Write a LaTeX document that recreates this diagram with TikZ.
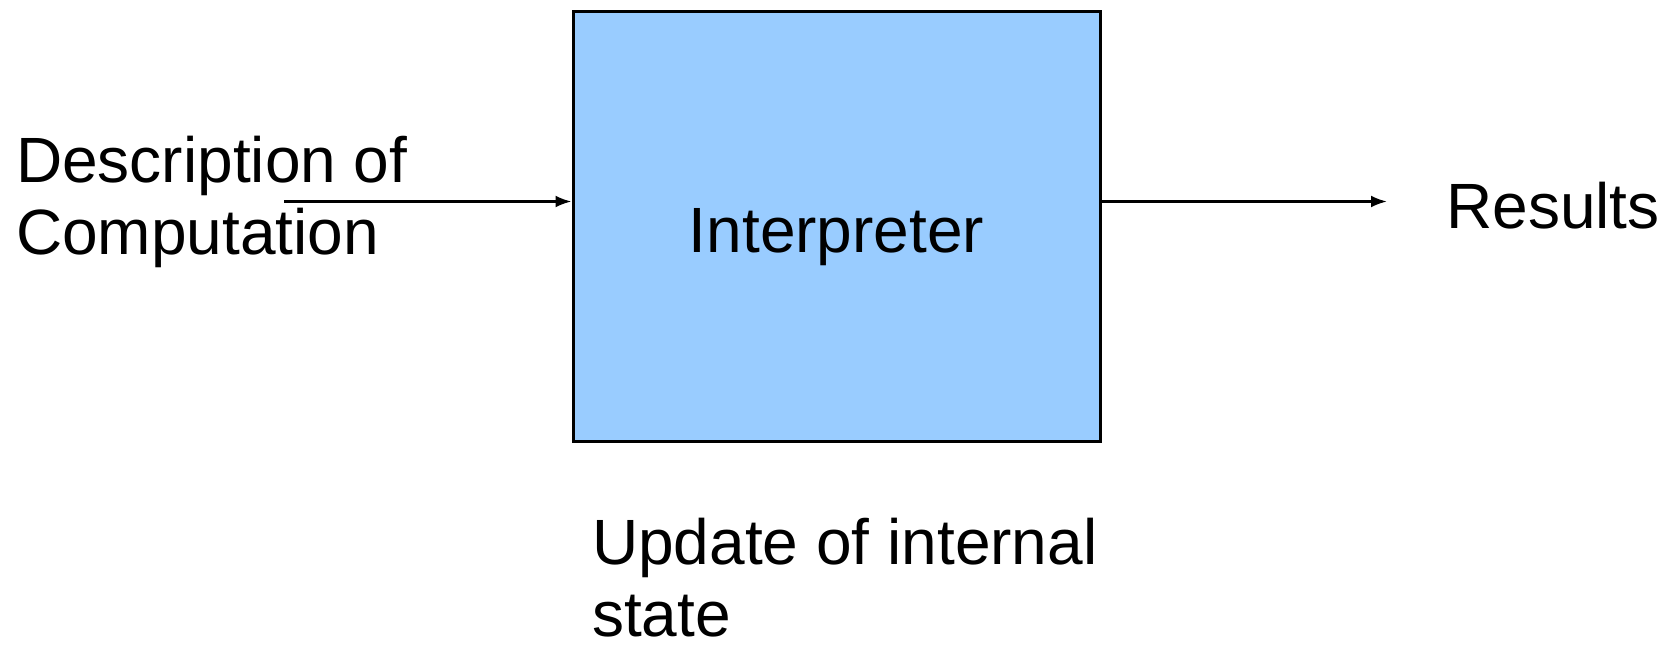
\documentclass[tikz,border=0pt]{standalone}
\usepackage{fontspec}
\setmainfont{Liberation Sans}
\usepackage{tikz}
\usetikzlibrary{arrows.meta}
\definecolor{box_blue}{HTML}{99CCFF}

\begin{document}
\begin{tikzpicture}[x=1pt, y=-1pt, >={Latex[length=16pt,width=12pt]},
  every node/.style={font=\fontsize{64}{72}\selectfont, inner sep=0pt}]

  \useasboundingbox (0,0) rectangle (1663,645);

  \node[draw=black, line width=3pt, fill=box_blue, minimum width=527pt, minimum height=430pt,
    text height=52pt, text depth=0pt] (interp) at (836.5,226) {Interpreter};

  % base of a two-line node is the baseline of its last line
  \node[anchor=base west, align=left] (desc) at (16,254.5) {Description of\\Computation};
  \node[anchor=base west] (res) at (1446,228) {Results};
  \node[anchor=base west, align=left] (upd) at (592,636) {Update of internal\\state};

  % free ends of the two arrows
  \coordinate (in) at (284,201.5);
  \coordinate (out) at (1387,201.5);

  \draw[->, line width=2.5pt] (in) -- (interp.west |- in);
  \draw[->, line width=2.5pt] (interp.east |- out) -- (out);

\end{tikzpicture}
\end{document}
